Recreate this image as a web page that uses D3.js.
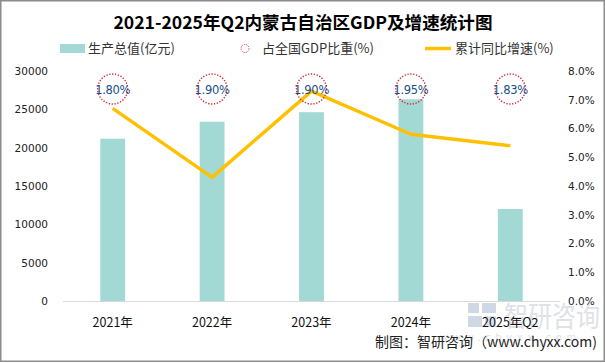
<!DOCTYPE html>
<html><head><meta charset="utf-8">
<script src="https://cdn.jsdelivr.net/npm/d3@7/dist/d3.min.js"></script>
<style>body{margin:0;background:#fff}svg{display:block}</style>
</head><body><svg id="c" width="605" height="363"></svg>
<script>
const categories = ["2021年","2022年","2023年","2024年","2025年Q2"];
const gdpValues = [21166, 23388, 24627, 26314, 12000];
const shareLabels = ["1.80%","1.90%","1.90%","1.95%","1.83%"];
const growthValues = [6.7, 4.3, 7.3, 5.8, 5.4];
const leftTicks = [0,5000,10000,15000,20000,25000,30000];
const rightTicks = [0,1,2,3,4,5,6,7,8];

const svg = d3.select("#c");
const cjk = "'Noto Sans CJK SC','Microsoft YaHei',sans-serif";
const num = "'DejaVu Sans','Liberation Sans',sans-serif";
const x0 = 63, x1 = 560, yTop = 71, yBot = 301;

svg.append("rect").attr("x",0.75).attr("y",0.75).attr("width",603.5).attr("height",360.5)
  .attr("fill","#fff").attr("stroke","#8c8c8c").attr("stroke-width",1.5);

const x = d3.scaleBand().domain(categories).range([x0,x1]).paddingInner(0.75).paddingOuter(0.375);
const yL = d3.scaleLinear().domain([0,30000]).range([yBot,yTop]);
const yR = d3.scaleLinear().domain([0,8]).range([yBot,yTop]);
const cx = d => x(d) + x.bandwidth()/2;

// watermark
const wm = svg.append("g");
wm.append("text").attr("transform","translate(504,327) scale(1,1.2)").attr("font-family",cjk).attr("font-size",24).attr("fill","#dfe2e6").text("智研咨询");
wm.append("text").attr("x",440).attr("y",341).attr("font-family",num).attr("font-size",10).attr("fill","#e0e2e6").attr("letter-spacing",4.6).text("www.chyxx.com");
wm.append("rect").attr("x",468).attr("y",303).attr("width",11).attr("height",10).attr("fill","#d0d8e6");
wm.append("rect").attr("x",482).attr("y",303).attr("width",14).attr("height",10).attr("fill","#d0d8e6");
wm.append("rect").attr("x",468).attr("y",316).attr("width",14).attr("height",11).attr("fill","#d0d8e6");
wm.append("rect").attr("x",485).attr("y",316).attr("width",11).attr("height",11).attr("fill","#dde2ec");

// bars
svg.append("g").selectAll("rect").data(gdpValues).join("rect")
  .attr("x",(d,i)=>x(categories[i])).attr("width",x.bandwidth())
  .attr("y",d=>yL(d)).attr("height",d=>yBot-yL(d)).attr("fill","#a3d9d5");

// baseline
svg.append("line").attr("x1",x0).attr("x2",x1).attr("y1",yBot+0.5).attr("y2",yBot+0.5).attr("stroke","#d9d9d9").attr("stroke-width",1);

// left axis
const gl = svg.append("g").attr("transform",`translate(${x0-15},0)`)
  .call(d3.axisLeft(yL).tickValues(leftTicks).tickSize(0).tickPadding(0).tickFormat(d3.format("d")));
gl.select(".domain").remove();
gl.selectAll("text").attr("font-family",num).attr("font-size",10.5).attr("fill","#222");

// right axis
const gr = svg.append("g").attr("transform",`translate(${x1+8},0)`)
  .call(d3.axisRight(yR).tickValues(rightTicks).tickSize(0).tickPadding(0).tickFormat(d=>d.toFixed(1)+"%"));
gr.select(".domain").remove();
gr.selectAll("text").attr("font-family",num).attr("font-size",10.5).attr("fill","#222");

// x labels
svg.append("g").selectAll("text").data(categories).join("text")
  .attr("x",d=>cx(d)).attr("y",327).attr("text-anchor","middle")
  .attr("font-family",cjk).attr("font-size",12.5).attr("fill","#111").text(d=>d);

// growth line
svg.append("path").datum(growthValues)
  .attr("d",d3.line().x((d,i)=>cx(categories[i])).y(d=>yR(d)))
  .attr("fill","none").attr("stroke","#ffc000").attr("stroke-width",3.5).attr("stroke-linejoin","round").attr("stroke-linecap","butt");

// share circles
const sg = svg.append("g").selectAll("g").data(shareLabels).join("g")
  .attr("transform",(d,i)=>`translate(${cx(categories[i])},89)`);
sg.append("circle").attr("r",15).attr("fill","none").attr("stroke","#d9262e").attr("stroke-width",1.4).attr("stroke-dasharray","1.3,1.6");
sg.append("text").attr("text-anchor","middle").attr("y",4.5).attr("font-family",num).attr("font-size",11.5).attr("letter-spacing",-0.3).attr("fill","#1a4f8a").text(d=>d);

// title
svg.append("text").attr("x",303).attr("y",29).attr("text-anchor","middle")
  .attr("font-family",cjk).attr("font-weight","bold").attr("font-size",17.6).attr("fill","#000")
  .text("2021-2025年Q2内蒙古自治区GDP及增速统计图");

// legend
const lg = svg.append("g").attr("font-family",cjk).attr("font-size",13).attr("fill","#333");
lg.append("rect").attr("x",60).attr("y",44).attr("width",25).attr("height",9).attr("fill","#a3d9d5");
lg.append("text").attr("x",88).attr("y",53).text("生产总值(亿元)");
lg.append("circle").attr("cx",245).attr("cy",48.5).attr("r",4).attr("fill","none").attr("stroke","#d9262e").attr("stroke-width",1).attr("stroke-dasharray","1,1.2");
lg.append("text").attr("x",262).attr("y",53).text("占全国GDP比重(%)");
lg.append("line").attr("x1",425).attr("x2",451).attr("y1",48.5).attr("y2",48.5).attr("stroke","#ffc000").attr("stroke-width",3.5);
lg.append("text").attr("x",455).attr("y",53).text("累计同比增速(%)");

// footer
svg.append("text").attr("x",597).attr("y",347).attr("text-anchor","end")
  .attr("font-family",cjk).attr("font-size",14).attr("fill","#222")
  .text("制图：智研咨询（www.chyxx.com)");
</script></body></html>
